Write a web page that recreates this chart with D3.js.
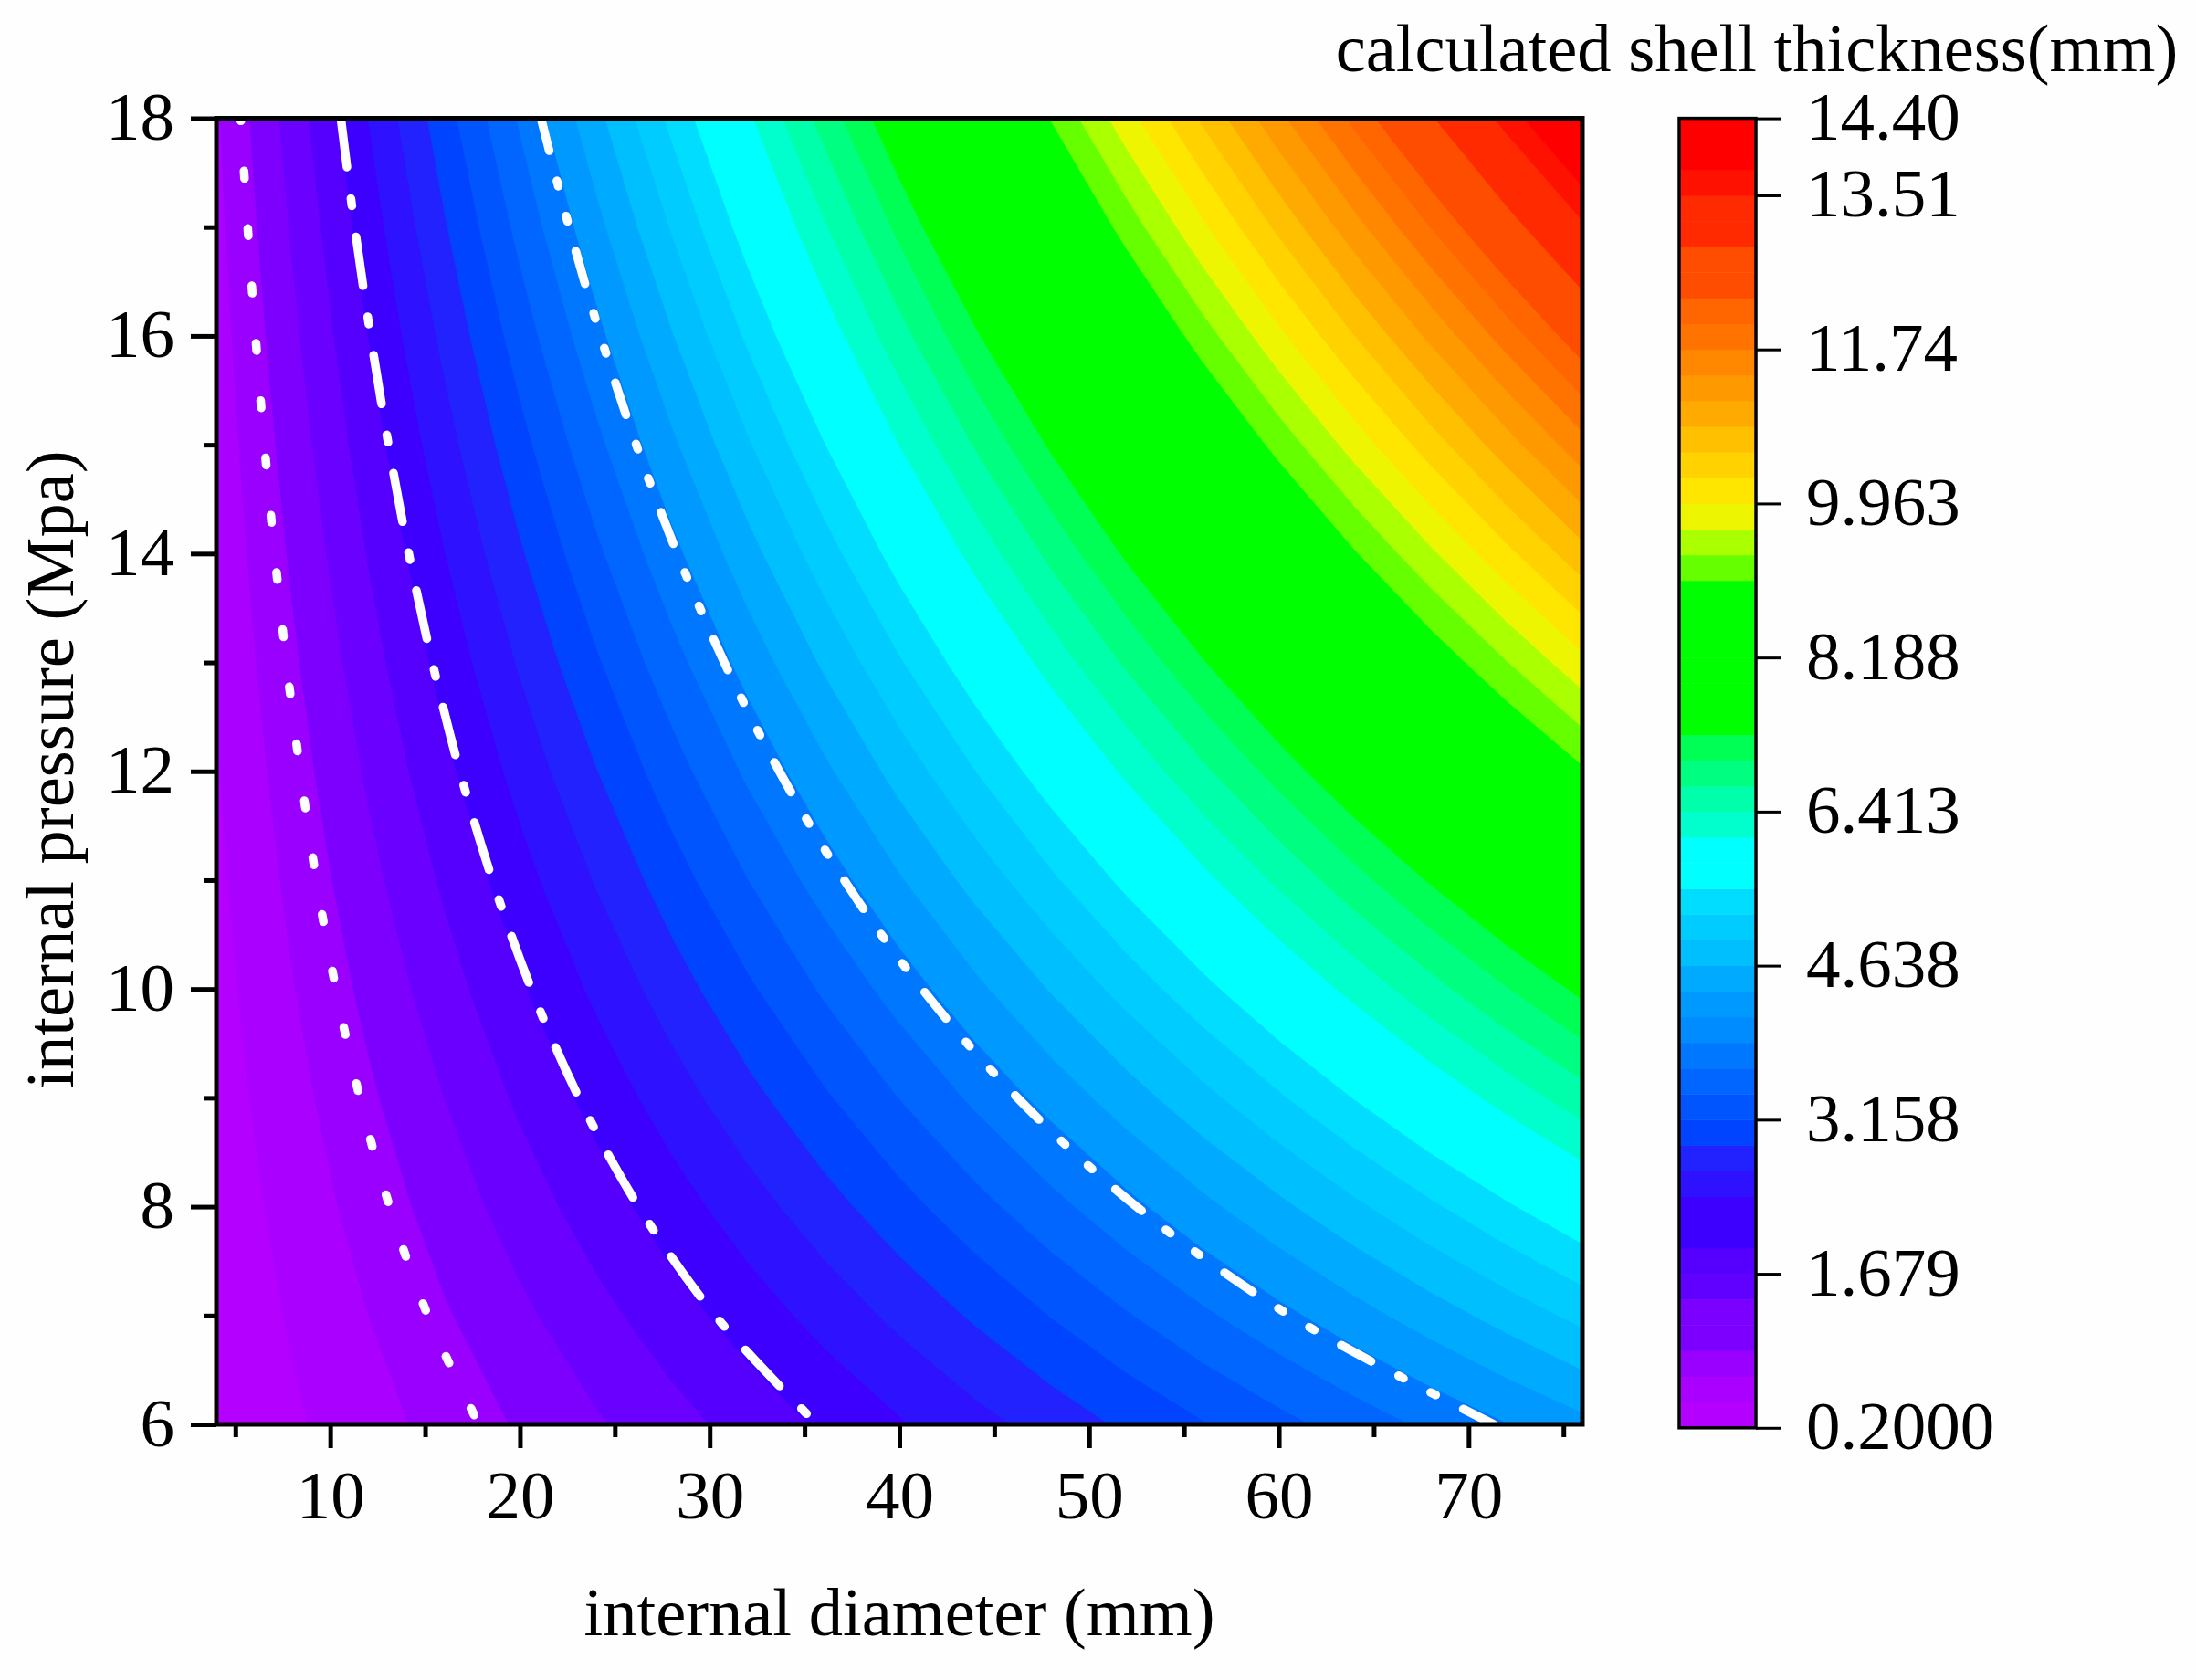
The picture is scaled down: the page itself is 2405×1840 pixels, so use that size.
<!DOCTYPE html>
<html><head><meta charset="utf-8">
<script src="https://cdn.jsdelivr.net/npm/d3@7"></script>
<style>
html,body{margin:0;padding:0;background:#fefefe}
svg{display:block}
text{font-family:"Liberation Serif","Times New Roman",serif;fill:#000}
</style></head><body>
<svg id="c" width="2405" height="1840"></svg>
<script>
// Axis grids for the thickness surface (values estimated from the colour bands and white isolines in the picture)
const diameters = [4,8,12,16,20,24,28,32,36,40,44,48,52,56,60,64,68,72,76];
const pressures = [6,7,8,9,10,11,12,13,14,15,16,17,18];
const thickness6  = [.224,.449,.673,.897,1.121,1.346,1.570,1.794,2.019,2.243,2.467,2.692,2.916,3.140,3.364,3.589,3.813,4.037,4.262];
const thickness7  = [.264,.528,.792,1.057,1.321,1.585,1.849,2.113,2.377,2.642,2.906,3.170,3.434,3.698,3.962,4.226,4.491,4.755,5.019];
const thickness8  = [.305,.610,.914,1.219,1.524,1.829,2.133,2.438,2.743,3.048,3.352,3.657,3.962,4.267,4.571,4.876,5.181,5.486,5.790];
const thickness9  = [.346,.692,1.038,1.385,1.731,2.077,2.423,2.769,3.115,3.462,3.808,4.154,4.500,4.846,5.192,5.538,5.885,6.231,6.577];
const thickness10 = [.388,.777,1.165,1.553,1.942,2.330,2.718,3.107,3.495,3.883,4.272,4.660,5.049,5.437,5.825,6.214,6.602,6.990,7.379];
const thickness11 = [.431,.863,1.294,1.725,2.157,2.588,3.020,3.451,3.882,4.314,4.745,5.176,5.608,6.039,6.471,6.902,7.333,7.765,8.196];
const thickness12 = [.475,.950,1.426,1.901,2.376,2.851,3.327,3.802,4.277,4.752,5.228,5.703,6.178,6.653,7.129,7.604,8.079,8.554,9.030];
const thickness13 = [.520,1.040,1.560,2.080,2.600,3.120,3.640,4.160,4.680,5.200,5.720,6.240,6.760,7.280,7.800,8.320,8.840,9.360,9.880];
const thickness14 = [.566,1.131,1.697,2.263,2.828,3.394,3.960,4.525,5.091,5.657,6.222,6.788,7.354,7.919,8.485,9.051,9.616,10.182,10.747];
const thickness15 = [.612,1.224,1.837,2.449,3.061,3.673,4.286,4.898,5.510,6.122,6.735,7.347,7.959,8.571,9.184,9.796,10.408,11.020,11.633];
const thickness16 = [.660,1.320,1.979,2.639,3.299,3.959,4.619,5.278,5.938,6.598,7.258,7.918,8.577,9.237,9.897,10.557,11.216,11.876,12.536];
const thickness17 = [.708,1.417,2.125,2.833,3.542,4.250,4.958,5.667,6.375,7.083,7.792,8.500,9.208,9.917,10.625,11.333,12.042,12.750,13.458];
const thickness18 = [.758,1.516,2.274,3.032,3.789,4.547,5.305,6.063,6.821,7.579,8.337,9.095,9.853,10.611,11.368,12.126,12.884,13.642,14.400];
const thicknessRows = [thickness6,thickness7,thickness8,thickness9,thickness10,thickness11,thickness12,thickness13,thickness14,thickness15,thickness16,thickness17,thickness18];

// Contour levels (lower bound of each filled band) and their colours as seen in the plot
const levels = [.2,.4958,.7917,1.0875,1.3833,1.6792,1.975,2.2708,2.5667,2.8625,3.1583,3.4542,3.75,4.0458,4.3417,4.6375,4.9333,5.2292,5.525,5.8208,6.1167,6.4125,6.7083,7.0042,7.3,7.5958,7.8917,8.1875,8.4833,8.7792,9.075,9.3708,9.6667,9.9625,10.2583,10.5542,10.85,11.1458,11.4417,11.7375,12.0333,12.3292,12.625,12.9208,13.2167,13.5125,13.8083,14.1042];
const levelColors = ["#b300ff","#aa00ff","#9900ff","#7d00ff","#6a00ff","#5500ff","#3d00ff","#2d11ff","#2222ff","#0044ff","#0055ff","#0066ff","#0077ff","#0099ff","#00aaff","#00bfff","#00ccff","#00ddff","#00ffff","#00ffff","#00ffcc","#00ffaa","#00ff80","#00ff55","#00ff00","#00ff00","#00ff00","#00ff00","#00ff00","#00ff00","#66ff00","#aaff00","#eef500","#ffe600","#ffd200","#ffc000","#ffaa00","#ff9900","#ff8800","#ff7300","#ff6600","#ff4d00","#ff4d00","#ff2a00","#ff2a00","#ff1100","#ff0000","#ff0000"];
// Colour bar swatches, bottom to top
const barColors = ["#b300ff","#aa00ff","#9900ff","#7d00ff","#7b00ff","#6000ff","#5500ff","#3d00ff","#3d00ff","#2d11ff","#2222ff","#0044ff","#0055ff","#0066ff","#0077ff","#008cff","#0099ff","#00aaff","#00bfff","#00ccff","#00ddff","#00ffff","#00ffff","#00ffcc","#00ffaa","#00ff80","#00ff55","#00ff00","#00ff00","#00ff00","#00ff00","#00ff00","#00ff00","#66ff00","#aaff00","#eef500","#ffe600","#ffd200","#ffc000","#ffaa00","#ff9900","#ff8800","#ff7300","#ff6600","#ff4d00","#ff4d00","#ff2a00","#ff2a00","#ff1100","#ff0000","#ff0000"];
const barTickBands = [0,6,12,18,24,30,36,42,48,51];
const barTickLabels = ["0.2000","1.679","3.158","4.638","6.413","8.188","9.963","11.74","13.51","14.40"];

// White isolines: pressure and the diameter for each curve
const linePressures = [6,7,8,9,10,11,12,13,14,15,16,17,18];
const lineDiameterA = [17.83,15.14,13.13,11.56,10.3,9.27,8.42,7.69,7.07,6.53,6.06,5.65,5.28];
const lineDiameterB = [35.66,30.29,26.25,23.11,20.6,18.55,16.83,15.38,14.14,13.07,12.13,11.29,10.56];
const lineDiameterC = [71.33,60.57,52.5,46.22,41.2,37.09,33.67,30.77,28.29,26.13,24.25,22.59,21.11];

const xMajor = [10,20,30,40,50,60,70];
const xMinor = [5,15,25,35,45,55,65,75];
const yMajor = [6,8,10,12,14,16,18];
const yMinor = [7,9,11,13,15,17];

const svg = d3.select("#c");
const FS = 75, FT = 74.5;
const x = d3.scaleLinear().domain([4,76]).range([237,1733]);
const y = d3.scaleLinear().domain([6,18]).range([1560,129.5]);
const bar = d3.scaleLinear().domain([0,51]).range([1563.8,129.6]);

svg.append("defs").append("clipPath").attr("id","plot").append("rect")
  .attr("x",x(4)).attr("y",y(18)).attr("width",x(76)-x(4)).attr("height",y(6)-y(18));

// contour bands
const nx = diameters.length, ny = pressures.length;
const flat = thicknessRows.flat();
const bands = d3.contours().size([nx,ny]).thresholds(levels)(flat);
const gx = d3.scaleLinear().domain([0.5,nx-0.5]).range([diameters[0],diameters[nx-1]]);
const gy = d3.scaleLinear().domain([0.5,ny-0.5]).range([pressures[0],pressures[ny-1]]);
const path = d3.geoPath(d3.geoTransform({point(a,b){this.stream.point(x(gx(a)),y(gy(b)));}}));
const plot = svg.append("g").attr("clip-path","url(#plot)");
plot.append("rect").attr("x",x(4)).attr("y",y(18)).attr("width",x(76)-x(4)).attr("height",y(6)-y(18)).attr("fill",levelColors[0]);
plot.selectAll("path.band").data(bands).join("path").attr("class","band")
  .attr("d",path).attr("fill",(d,i)=>levelColors[i]);

// white isolines
const line = d3.line().x(d=>x(d[0])).y(d=>y(d[1])).curve(d3.curveCatmullRom);
const isolines = [
  {d:lineDiameterA,dash:"8 55",off:5},
  {d:lineDiameterB,dash:"54 34.5 8 34.5",off:0},
  {d:lineDiameterC,dash:"37 33.8 6 33.8 6 33.9",off:0}
];
plot.selectAll("path.iso").data(isolines).join("path").attr("class","iso")
  .attr("d",s=>line(linePressures.slice().reverse().map((p,i)=>[s.d[s.d.length-1-i],p])).toString())
  .attr("fill","none").attr("stroke","#fff").attr("stroke-width",9.5)
  .attr("stroke-linecap","round").attr("stroke-dasharray",s=>s.dash).attr("stroke-dashoffset",s=>s.off);

// frame
svg.append("rect").attr("x",x(4)).attr("y",y(18)).attr("width",x(76)-x(4)).attr("height",y(6)-y(18))
  .attr("fill","none").attr("stroke","#000").attr("stroke-width",5);

function style(g,w){
  g.select(".domain").remove();
  g.selectAll(".tick line").attr("stroke","#000").attr("stroke-width",w);
}
// axes
svg.append("g").attr("transform",`translate(0,${y(6)})`)
  .call(d3.axisBottom(x).tickValues(xMinor).tickSize(14).tickFormat(""))
  .call(g=>style(g,5)).selectAll("text").remove();
svg.append("g").attr("transform",`translate(0,${y(6)})`)
  .call(d3.axisBottom(x).tickValues(xMajor).tickSize(26).tickPadding(0).tickFormat(d3.format("d")))
  .call(g=>style(g,5))
  .call(g=>g.selectAll("text").attr("font-size",FS).attr("y",105).attr("dy",-2));
svg.append("g").attr("transform",`translate(${x(4)},0)`)
  .call(d3.axisLeft(y).tickValues(yMinor).tickSize(14).tickFormat(""))
  .call(g=>style(g,5)).selectAll("text").remove();
svg.append("g").attr("transform",`translate(${x(4)},0)`)
  .call(d3.axisLeft(y).tickValues(yMajor).tickSize(28).tickPadding(0).tickFormat(d3.format("d")))
  .call(g=>style(g,5))
  .call(g=>g.selectAll("text").attr("font-size",FS).attr("x",-46).attr("dy",23));

// colour bar
const barX0 = 1839, barX1 = 1923;
svg.append("g").selectAll("rect").data(barColors).join("rect")
  .attr("x",barX0).attr("width",barX1-barX0)
  .attr("y",(d,i)=>bar(i+1)).attr("height",(d,i)=>bar(i)-bar(i+1)+0.5).attr("fill",d=>d);
svg.append("rect").attr("x",barX0).attr("y",bar(51)).attr("width",barX1-barX0).attr("height",bar(0)-bar(51))
  .attr("fill","none").attr("stroke","#000").attr("stroke-width",3.5);
svg.append("g").attr("transform",`translate(${barX1},0)`)
  .call(d3.axisRight(bar).tickValues(barTickBands).tickSize(28).tickPadding(27).tickFormat((d,i)=>barTickLabels[i]))
  .call(g=>style(g,3))
  .call(g=>g.selectAll("text").attr("font-size",FS).attr("dy",23));

// titles
svg.append("text").attr("x",985).attr("y",1791).attr("text-anchor","middle").attr("font-size",FT).text("internal diameter (mm)");
svg.append("text").attr("transform","translate(80,843) rotate(-90)").attr("text-anchor","middle").attr("font-size",FT).text("internal pressure (Mpa)");
svg.append("text").attr("x",1924).attr("y",78).attr("text-anchor","middle").attr("font-size",FT).text("calculated shell thickness(mm)");
</script>
</body></html>
